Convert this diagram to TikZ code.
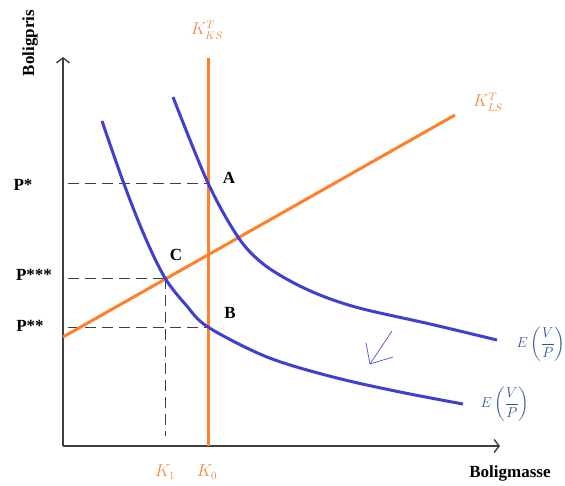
\documentclass[tikz,border=0pt]{standalone}
\usepackage{amsmath}
\usepackage{fontspec}
\setmainfont{Liberation Serif}
\usepackage{xcolor}
\usetikzlibrary{positioning, arrows.meta}

\definecolor{lineorange}{RGB}{255,128,40}
\definecolor{laborange}{RGB}{240,140,70}
\definecolor{lineblue}{RGB}{64,64,208}
\definecolor{labblue}{RGB}{47,85,151}

\begin{document}
\begin{tikzpicture}[
    x=1pt, y=-1pt,
    font=\fontsize{17}{20}\selectfont\bfseries,
    axis/.style={draw=black!75, line width=1.8pt, -{Straight Barb[length=5pt, width=13pt, line width=1.4pt]}},
    demand/.style={draw=lineblue, line width=3pt},
    supply/.style={draw=lineorange, line width=3pt},
    guide/.style={draw=black!75, line width=1pt, dash pattern=on 11pt off 6pt},
    shiftarrow/.style={draw=lineblue!85, line width=0.8pt},
    ptlabel/.style={font=\fontsize{17}{20}\selectfont\bfseries},
    klabel/.style={text=laborange, font=\fontsize{16}{18}\selectfont},
    elabel/.style={text=labblue, font=\fontsize{15}{18}\selectfont},
]
\useasboundingbox (0,0) rectangle (565,485);

% Axes
\coordinate (O) at (63,446);
\coordinate (ytop) at (63,57);
\coordinate (xend) at (500,446);
\draw[axis] (O) -- (ytop);
\draw[axis] (O) -- (xend);
\node[rotate=90] (ylab) at (30,43) {Boligpris};
\node (xlab) at (510,473) {Boligmasse};

% Equilibrium points
\coordinate (A) at (208,183);
\coordinate (B) at (208,327);
\coordinate (C) at (165,278);

% Guide lines
\coordinate (pstar) at (68,183);
\coordinate (pthree) at (68,278);
\coordinate (ptwo) at (68,327);
\coordinate (konefoot) at (165,436);
\draw[guide] (pstar) -- (A);
\draw[guide] (pthree) -- (C);
\draw[guide] (ptwo) -- (B);
\draw[guide] (C) -- (konefoot);

% Supply curves
\coordinate (kstop) at (208,58);
\coordinate (ksbot) at (208,446);
\coordinate (lsleft) at (63,337);
\coordinate (lsright) at (455,115);
\draw[supply] (ksbot) -- (kstop);
\draw[supply] (lsleft) -- (lsright);

% Demand curves
\draw[demand] plot[smooth, tension=0.55] coordinates {(173,97) (208,183) (238,237) (262,263) (292,282) (325,297) (363,309) (430,324) (497,340)};
\draw[demand] plot[smooth, tension=0.55] coordinates {(102,121) (124,184) (145,237) (165,278) (186,305) (208,327) (267,357) (333,377) (400,392) (463,404)};

% Shift arrow
\coordinate (sfrom) at (392,331);
\coordinate (sto) at (370,364);
\coordinate (sheadl) at (366,343);
\coordinate (sheadr) at (393,357);
\draw[shiftarrow] (sfrom) -- (sto);
\draw[shiftarrow] (sheadl) -- (sto) -- (sheadr);

% Labels
\node[ptlabel] (labA) at (229,178) {A};
\node[ptlabel] (labB) at (230,313) {B};
\node[ptlabel] (labC) at (176,255) {C};
\node[ptlabel] (labps) at (23,185) {P*};
\node[ptlabel] (labpt) at (34,275) {P***};
\node[ptlabel] (labpd) at (30,326) {P**};

\node[klabel] (labks) at (207,30) {$K^T_{KS}$};
\node[klabel] (labls) at (488,102) {$K^T_{LS}$};
\node[klabel] (labk1) at (165,472) {$K_1$};
\node[klabel] (labk0) at (207,472) {$K_0$};

\node[elabel] (labe1) at (541,344) {$E\left(\dfrac{V}{P}\right)$};
\node[elabel] (labe2) at (505,404) {$E\left(\dfrac{V}{P}\right)$};

\end{tikzpicture}
\end{document}
